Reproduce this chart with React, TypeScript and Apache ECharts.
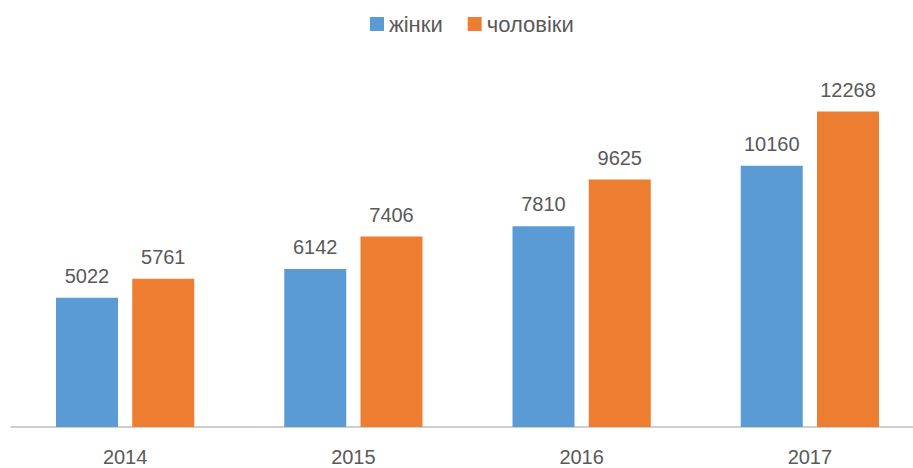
import React, { useEffect, useRef } from "react";
import * as echarts from "echarts";

const years = ["2014", "2015", "2016", "2017"];
const women = [5022, 6142, 7810, 10160];
const men = [5761, 7406, 9625, 12268];
const seriesNames = ["жінки", "чоловіки"];

export default function App() {
  const ref = useRef<HTMLDivElement>(null);
  useEffect(() => {
    document.body.style.margin = "0";
    const chart = echarts.init(ref.current!, null, { renderer: "svg" });
    const font = "Liberation Sans";
    const labelStyle = {
      show: true,
      position: "top" as const,
      distance: 12,
      color: "#595959",
      fontSize: 20,
      fontFamily: font,
    };
    chart.setOption({
      animation: false,
      backgroundColor: "#ffffff",
      legend: {
        top: 8,
        left: 365,
        itemWidth: 14,
        itemHeight: 14,
        itemGap: 25,
        icon: "rect",
        textStyle: { color: "#595959", fontSize: 22, fontFamily: font },
        data: seriesNames,
      },
      grid: {
        left: 11,
        width: 913,
        top: 67,
        bottom: 41,
        containLabel: false,
        outerBoundsMode: "none",
      },
      xAxis: {
        type: "category",
        data: years,
        axisLine: { lineStyle: { color: "#BFBFBF", width: 1.5 } },
        axisTick: { show: false },
        axisLabel: { color: "#595959", fontSize: 20, fontFamily: font, margin: 20 },
      },
      yAxis: {
        type: "value",
        min: 0,
        max: 14000,
        show: false,
        splitLine: { show: false },
      },
      series: [
        {
          name: seriesNames[0],
          type: "bar",
          data: women,
          barWidth: 62,
          barGap: "23%",
          itemStyle: { color: "#5B9BD5" },
          label: labelStyle,
        },
        {
          name: seriesNames[1],
          type: "bar",
          data: men,
          barWidth: 62,
          itemStyle: { color: "#ED7D31" },
          label: labelStyle,
        },
      ],
    });
    return () => chart.dispose();
  }, []);
  return <div ref={ref} style={{ width: 913, height: 468 }} />;
}
